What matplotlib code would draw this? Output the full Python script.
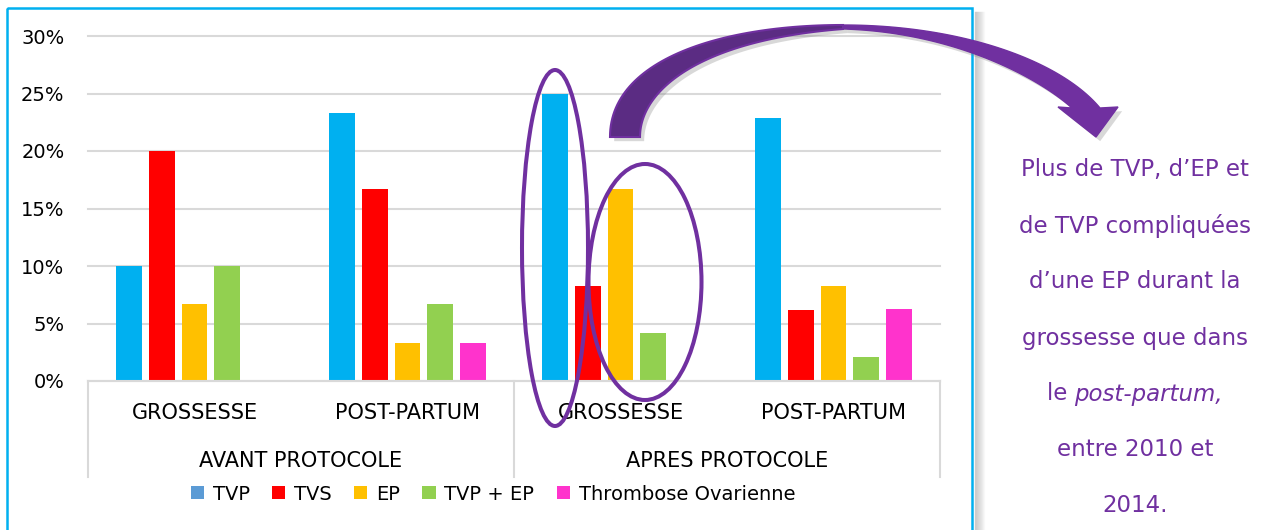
import numpy as np
import matplotlib
matplotlib.use("Agg")
import matplotlib.pyplot as plt
from matplotlib.patches import Polygon, Ellipse, Rectangle, Patch
from matplotlib.lines import Line2D
from matplotlib import transforms
import matplotlib.patheffects as pe

# ---- data ----
groups = ["AVANT PROTOCOLE", "APRES PROTOCOLE"]
periods = ["GROSSESSE", "POST-PARTUM", "GROSSESSE", "POST-PARTUM"]
series = ["TVP", "TVS", "EP", "TVP + EP", "Thrombose Ovarienne"]
tvp = [10.0, 23.3, 25.0, 22.9]
tvs = [20.0, 16.7, 8.3, 6.2]
ep = [6.7, 3.3, 16.7, 8.3]
tvp_ep = [10.0, 6.7, 4.2, 2.1]
thrombose_ov = [0.0, 3.3, 0.0, 6.3]
yticks = [0, 5, 10, 15, 20, 25, 30]

note_lines = ["Plus de TVP, d\u2019EP et", "de TVP compliquées", "d\u2019une EP durant la",
              "grossesse que dans", None, "entre 2010 et", "2014."]

colors = ["#00B0F0", "#FF0000", "#FFC000", "#92D050", "#FF33CC"]
legend_colors = ["#5B9BD5", "#FF0000", "#FFC000", "#92D050", "#FF33CC"]
purple = "#7030A0"
dark_purple = "#5B2C83"
grid_col = "#D9D9D9"

plt.rcParams['font.family'] = ['DejaVu Sans']

W, H = 1267, 530
fig = plt.figure(figsize=(W / 100, H / 100), dpi=100)
# pixel coords measured from top-left of the picture
px = transforms.Affine2D().scale(1 / W, -1 / H).translate(0, 1) + fig.transFigure

ax = fig.add_axes([88 / W, 1 - 381 / H, (940 - 88) / W, (381 - 36) / H])

x = np.arange(len(periods))
pitch = 0.154
width = 0.122
all_series = [tvp, tvs, ep, tvp_ep, thrombose_ov]
for i, vals in enumerate(all_series):
    ax.bar(x + (i - 2) * pitch, vals, width=width, color=colors[i], linewidth=0, zorder=3)

ax.set_xlim(-0.5, 3.5)
ax.set_ylim(0, 30)
ax.set_yticks(yticks)
ax.set_yticklabels([f"{v}%" for v in yticks], fontsize=14)
ax.tick_params(axis="y", length=0, pad=17)
ax.set_xticks([])
ax.yaxis.grid(True, color=grid_col, lw=1.5, zorder=0)
for gl in ax.get_ygridlines():
    gl.set_clip_on(False)
ax.set_axisbelow(True)
for s in ax.spines.values():
    s.set_visible(False)

# category axis: baseline, separators, labels
trans = transforms.blended_transform_factory(ax.transData, ax.transAxes)
ax.plot([-0.5, 3.5], [0, 0], color=grid_col, lw=1.5, transform=trans, clip_on=False, zorder=4)
for xs in [-0.5, 1.5, 3.5]:
    ax.plot([xs, xs], [0, -0.278], color=grid_col, lw=1.5, transform=trans, clip_on=False)
for i, p in enumerate(periods):
    ax.text(x[i], -0.093, p, transform=trans, ha="center", va="center", fontsize=15)
for j, g in enumerate(groups):
    ax.text(0.5 + 2 * j, -0.232, g, transform=trans, ha="center", va="center", fontsize=15)

handles = [Patch(facecolor=c, label=s) for c, s in zip(legend_colors, series)]
fig.legend(handles=handles, loc="center", bbox_to_anchor=(493 / W, 1 - 494 / H), ncol=5,
           frameon=False, fontsize=14, handlelength=0.68, handleheight=0.68,
           handletextpad=0.45, columnspacing=1.15)

# chart frame + shadow
for k in range(10):
    fig.add_artist(Line2D([975 + k, 975 + k], [12, 540], color="gray",
                          alpha=0.35 * (1 - k / 10), lw=1, transform=px))
fig.add_artist(Rectangle((7, 8), 965, 540, fill=False, edgecolor="#00B0F0", lw=1.8, transform=px))

# highlight ellipses
fig.add_artist(Ellipse((555, 248), 66, 356, fill=False, edgecolor=purple, lw=2.9, transform=px, zorder=10))
fig.add_artist(Ellipse((645, 282), 113, 236, fill=False, edgecolor=purple, lw=2.9, transform=px, zorder=10))


# curved arrow
def bez(p0, p1, p2, p3, n=60):
    t = np.linspace(0, 1, n)[:, None]
    p0, p1, p2, p3 = map(np.array, (p0, p1, p2, p3))
    return (1 - t) ** 3 * p0 + 3 * (1 - t) ** 2 * t * p1 + 3 * (1 - t) * t ** 2 * p2 + t ** 3 * p3


up_l = bez((610, 137), (610, 60), (720, 25), (843, 25))
lo_l = bez((640, 137), (640, 90), (700, 40), (843, 29))
up_r = bez((843, 25), (960, 25), (1060, 60), (1100, 108))
lo_r = bez((843, 29), (950, 32), (1035, 75), (1072, 108))
head = np.array([(1118, 107), (1096, 137), (1058, 107)])

shadow = [pe.SimplePatchShadow(offset=(3, -3), shadow_rgbFace="gray", alpha=0.3), pe.Normal()]
left_poly = np.vstack([up_l, lo_l[::-1]])
right_poly = np.vstack([up_r, head, lo_r[::-1]])
fig.add_artist(Polygon(right_poly, closed=True, facecolor=purple, edgecolor=purple, lw=1,
                       transform=px, zorder=11, path_effects=shadow))
fig.add_artist(Polygon(left_poly, closed=True, facecolor=dark_purple, edgecolor=purple, lw=1.5,
                       transform=px, zorder=11, path_effects=shadow))

# note text
cx = 1135
fs = 16.5
ys = [170, 226, 282, 338, 394, 450, 505]
for line, y in zip(note_lines, ys):
    if line is not None:
        fig.text(cx / W, 1 - y / H, line, ha="center", va="center", fontsize=fs, color=purple)

r = fig.canvas.get_renderer()
t1 = fig.text(0, 1 - ys[4] / H, "le ", ha="left", va="center", fontsize=fs, color=purple)
t2 = fig.text(0, 1 - ys[4] / H, "post-partum,", ha="left", va="center", fontsize=fs,
              color=purple, style="italic")
w1 = t1.get_window_extent(r).width
w2 = t2.get_window_extent(r).width
start = cx - (w1 + w2) / 2
t1.set_x(start / W)
t2.set_x((start + w1) / W)

fig.savefig("out.png", dpi=100)
